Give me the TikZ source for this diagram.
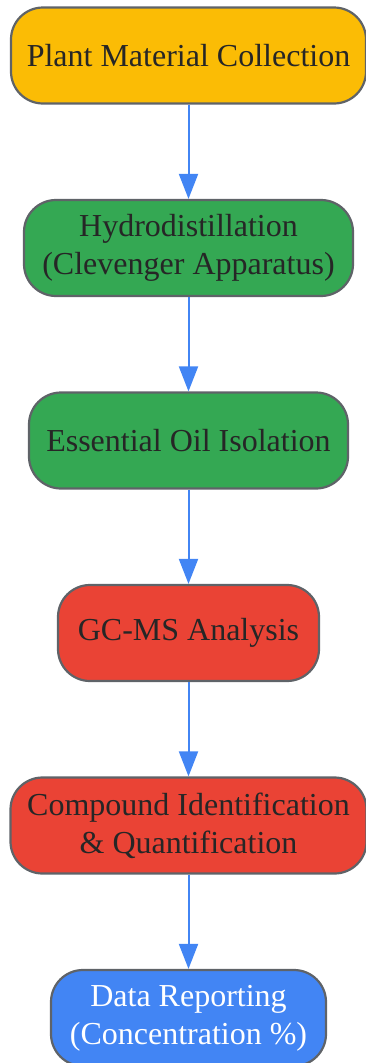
\documentclass[tikz,border=0pt]{standalone}
\usepackage{fontspec}
\setmainfont{Liberation Serif}
\usepackage{tikz}
\usetikzlibrary{arrows.meta}
\usetikzlibrary{positioning}
\definecolor{stepyellow}{HTML}{FBBC05}
\definecolor{stepgreen}{HTML}{34A853}
\definecolor{stepred}{HTML}{EA4335}
\definecolor{stepblue}{HTML}{4285F4}
\definecolor{stepedge}{HTML}{5F6368}
\definecolor{steptext}{HTML}{262626}

\begin{document}
\begin{tikzpicture}[x=1pt,y=1pt,
  stepbox/.style={draw=stepedge, line width=2.2pt, rounded corners=32pt,
    minimum height=96pt, align=center, text=steptext,
    font=\fontsize{32}{38}\selectfont},
  flow/.style={draw=stepblue, line width=2pt,
    -{Triangle[width=19pt,length=25pt]}},
  node distance=94.3pt]
\useasboundingbox (0,0) rectangle (365,-1063);
\node[stepbox, fill=stepyellow, minimum width=355pt] (collect) at (188.5,-55.5)
  {Plant Material Collection};
\node[stepbox, fill=stepgreen, minimum width=329pt, below=of collect] (distill)
  {Hydrodistillation\\(Clevenger Apparatus)};
\node[stepbox, fill=stepgreen, minimum width=319pt, below=of distill] (isolate)
  {Essential Oil Isolation};
\node[stepbox, fill=stepred, minimum width=261pt, below=of isolate] (gcms)
  {GC-MS Analysis};
\node[stepbox, fill=stepred, minimum width=356pt, below=of gcms] (identify)
  {Compound Identification\\\& Quantification};
\node[stepbox, fill=stepblue, text=white, minimum width=275pt, below=of identify] (report)
  {Data Reporting\\(Concentration \%)};
% arrows between steps
\foreach \a/\b in {collect/distill, distill/isolate, isolate/gcms,
                   gcms/identify, identify/report}
  \draw[flow] (\a) -- (\b);
\end{tikzpicture}
\end{document}
